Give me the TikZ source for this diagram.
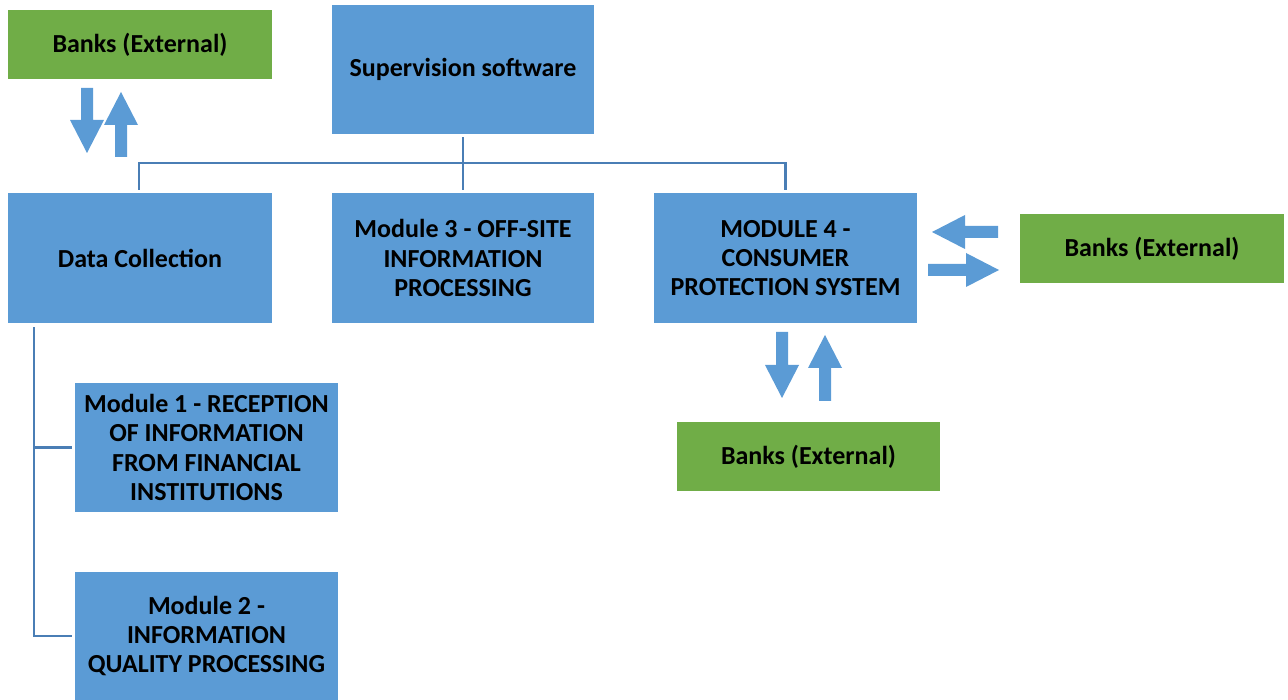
\documentclass[tikz,border=0pt]{standalone}
\usepackage{fontspec}
\setmainfont{Carlito}
\usetikzlibrary{calc}
\definecolor{boxblue}{HTML}{5B9BD5}
\definecolor{boxgreen}{HTML}{70AD47}
\definecolor{connblue}{HTML}{4A7EB5}
\tikzset{
  blk/.style={rectangle, inner sep=0pt, align=center, text=black,
    font=\fontsize{26}{29.3}\selectfont\bfseries},
  bluebox/.style={blk, fill=boxblue},
  greenbox/.style={blk, fill=boxgreen},
  conn/.style={draw=connblue, line width=2.5pt},
  arrowfill/.style={fill=boxblue}
}
\newcommand\blkdown[3]{\fill[arrowfill] (#1-6,#2) -- (#1+6,#2) -- (#1+6,#3-33) -- (#1+17,#3-33) -- (#1,#3) -- (#1-17,#3-33) -- (#1-6,#3-33) -- cycle;}
\newcommand\blkup[3]{\fill[arrowfill] (#1-6,#2) -- (#1+6,#2) -- (#1+6,#3+33) -- (#1+17,#3+33) -- (#1,#3) -- (#1-17,#3+33) -- (#1-6,#3+33) -- cycle;}
\newcommand\blkleft[3]{\fill[arrowfill] (#2,#1-6) -- (#2,#1+6) -- (#3+33,#1+6) -- (#3+33,#1+17) -- (#3,#1) -- (#3+33,#1-17) -- (#3+33,#1-6) -- cycle;}
\newcommand\blkright[3]{\fill[arrowfill] (#2,#1-6) -- (#2,#1+6) -- (#3-33,#1+6) -- (#3-33,#1+17) -- (#3,#1) -- (#3-33,#1-17) -- (#3-33,#1-6) -- cycle;}
\begin{document}
\begin{tikzpicture}[x=1pt,y=-1pt]
\useasboundingbox (0,0) rectangle (1288,700);
\node[greenbox, minimum width=264pt, minimum height=69pt] (bankTL) at (140,44.5) {Banks (External)};
\node[bluebox, minimum width=262pt, minimum height=129pt] (sup) at (463,69.5) {Supervision software};
\node[bluebox, minimum width=264pt, minimum height=130pt] (dc) at (140,258) {Data Collection};
\node[bluebox, minimum width=262pt, minimum height=130pt] (m3) at (463,258) {Module 3 - OFF-SITE\\INFORMATION\\PROCESSING};
\node[bluebox, minimum width=263pt, minimum height=130pt] (m4) at (785.5,258) {MODULE 4 -\\CONSUMER\\PROTECTION SYSTEM};
\node[greenbox, minimum width=264pt, minimum height=69pt] (bankR) at (1152,248.5) {Banks (External)};
\node[greenbox, minimum width=263pt, minimum height=69pt] (bankB) at (808.5,456.5) {Banks (External)};
\node[bluebox, minimum width=263pt, minimum height=129pt] (m1) at (206.5,447.5) {Module 1 - RECEPTION\\OF INFORMATION\\FROM FINANCIAL\\INSTITUTIONS};
\node[bluebox, minimum width=263pt, minimum height=128pt] (m2) at (206.5,636) {Module 2 -\\INFORMATION\\QUALITY PROCESSING};
% connectors
\coordinate (bus) at (463,163);
\draw[conn] ([yshift=-3pt]sup.south) -- ([yshift=3pt]m3.north);
\draw[conn] ([xshift=-1pt,yshift=3pt]dc.north) |- (bus) -| ([yshift=3pt]m4.north);
\coordinate (trunk) at ($(dc.south west)+(26,4)$);
\draw[conn] (trunk) |- ([xshift=-3pt]m2.west);
\draw[conn] (trunk |- m1.west) -- ([xshift=-3pt]m1.west);
% block arrows
\blkdown{87}{88}{153}
\blkup{121}{157}{92}
\blkleft{232}{998}{932}
\blkright{270}{928}{999}
\blkdown{782}{332}{398}
\blkup{825}{401}{335}
\end{tikzpicture}
\end{document}
